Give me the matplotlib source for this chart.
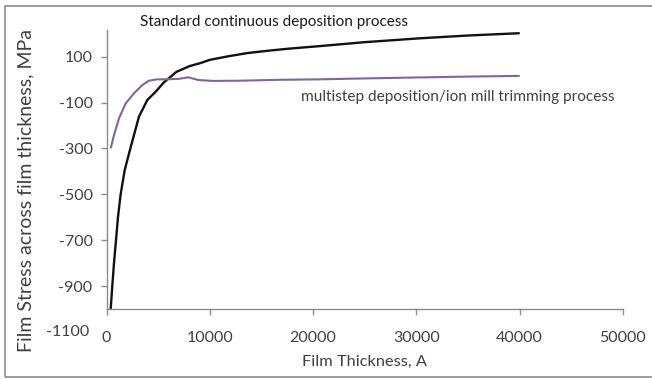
import matplotlib.pyplot as plt
from matplotlib.patches import Rectangle

# ─── data ───────────────────────────────────────────────────────────────────
std_thickness = [406, 560, 725, 920, 1110, 1370, 1760, 2270,
                 2660, 3140, 3950, 4760, 5560, 6790, 8070, 9040, 10010,
                 11620, 13560, 15490, 17500, 20700, 25000, 30400, 35000, 40000]
std_stress = [-1000, -900, -800, -700, -600, -500, -395, -307,
              -242, -162, -89, -53, -12, 34, 59, 71, 86,
              100, 115, 125, 134, 146, 163, 180, 192, 202]

multi_thickness = [406, 725, 1210, 1855, 2660, 3460, 4110, 4910, 5820, 7000,
                   7910, 8880, 10330, 12910, 16780, 20700, 25000, 30000,
                   35000, 40000]
multi_stress = [-300, -242, -169, -104, -60, -24, -5, 1, 1, 3,
                10, -2, -6, -5, -1, 1, 5, 9, 13, 16]

x_ticks = [0, 10000, 20000, 30000, 40000, 50000]
y_ticks = [-900, -700, -500, -300, -100, 100]

AXIS_GRAY = "#8c8c8c"
TEXT_GRAY = "#404040"
C_STD = "#111111"
C_MULTI = "#8064a2"

plt.rcParams["font.family"] = ["Lato", "DejaVu Sans"]

W, H = 652, 379
fig = plt.figure(figsize=(W / 100, H / 100), dpi=100)
fig.patch.set_facecolor("white")

# chart-area border (right edge falls outside the crop)
fig.add_artist(Rectangle((5 / W, 1 - 377 / H), 700 / W, (377 - 5.5) / H,
                         transform=fig.transFigure, fill=False,
                         edgecolor="#8a8a8a", linewidth=1.2))

left, right, bottom, top = 106.5, 623, 309, 30
ax = fig.add_axes([left / W, 1 - bottom / H, (right - left) / W, (bottom - top) / H])

ax.plot(std_thickness, std_stress, color=C_STD, lw=1.7,
        solid_capstyle="butt", solid_joinstyle="round")
ax.plot(multi_thickness, multi_stress, color=C_MULTI, lw=1.5,
        solid_capstyle="butt", solid_joinstyle="round")

ax.set_xlim(0, 50000)
ax.set_ylim(-1000, 216)
ax.set_xticks(x_ticks)
ax.set_yticks(y_ticks)
ax.set_xticklabels([str(v) for v in x_ticks])
ax.set_yticklabels([str(v) for v in y_ticks])

for side in ("top", "right"):
    ax.spines[side].set_visible(False)
for side in ("left", "bottom"):
    ax.spines[side].set_color(AXIS_GRAY)
    ax.spines[side].set_linewidth(1.0)

ax.tick_params(axis="both", direction="out", length=4, width=1.0,
               color=AXIS_GRAY, labelcolor=TEXT_GRAY, labelsize=11.5)
ax.tick_params(axis="x", pad=12)
ax.tick_params(axis="y", pad=6)

# Excel-style bottom label below the crossing axis
ax.text(-0.034, -1100, "-1100", transform=ax.get_yaxis_transform(),
        ha="right", va="center", fontsize=11.5, color=TEXT_GRAY, clip_on=False)

ax.set_xlabel("Film Thickness, A", fontsize=11.8, color=TEXT_GRAY, labelpad=7)
fig.text(26 / W, 1 - 190 / H, "Film Stress across film thickness, MPa",
         rotation=90, ha="center", va="center", fontsize=14, color=TEXT_GRAY)

ax.text(3200, 249, "Standard continuous deposition process", fontsize=11,
        color="#1a1a1a", ha="left", va="center", clip_on=False)
ax.text(18800, -76, "multistep deposition/ion mill trimming process", fontsize=11.1,
        color=TEXT_GRAY, ha="left", va="center")

fig.savefig("out.png", dpi=100, facecolor="white")
